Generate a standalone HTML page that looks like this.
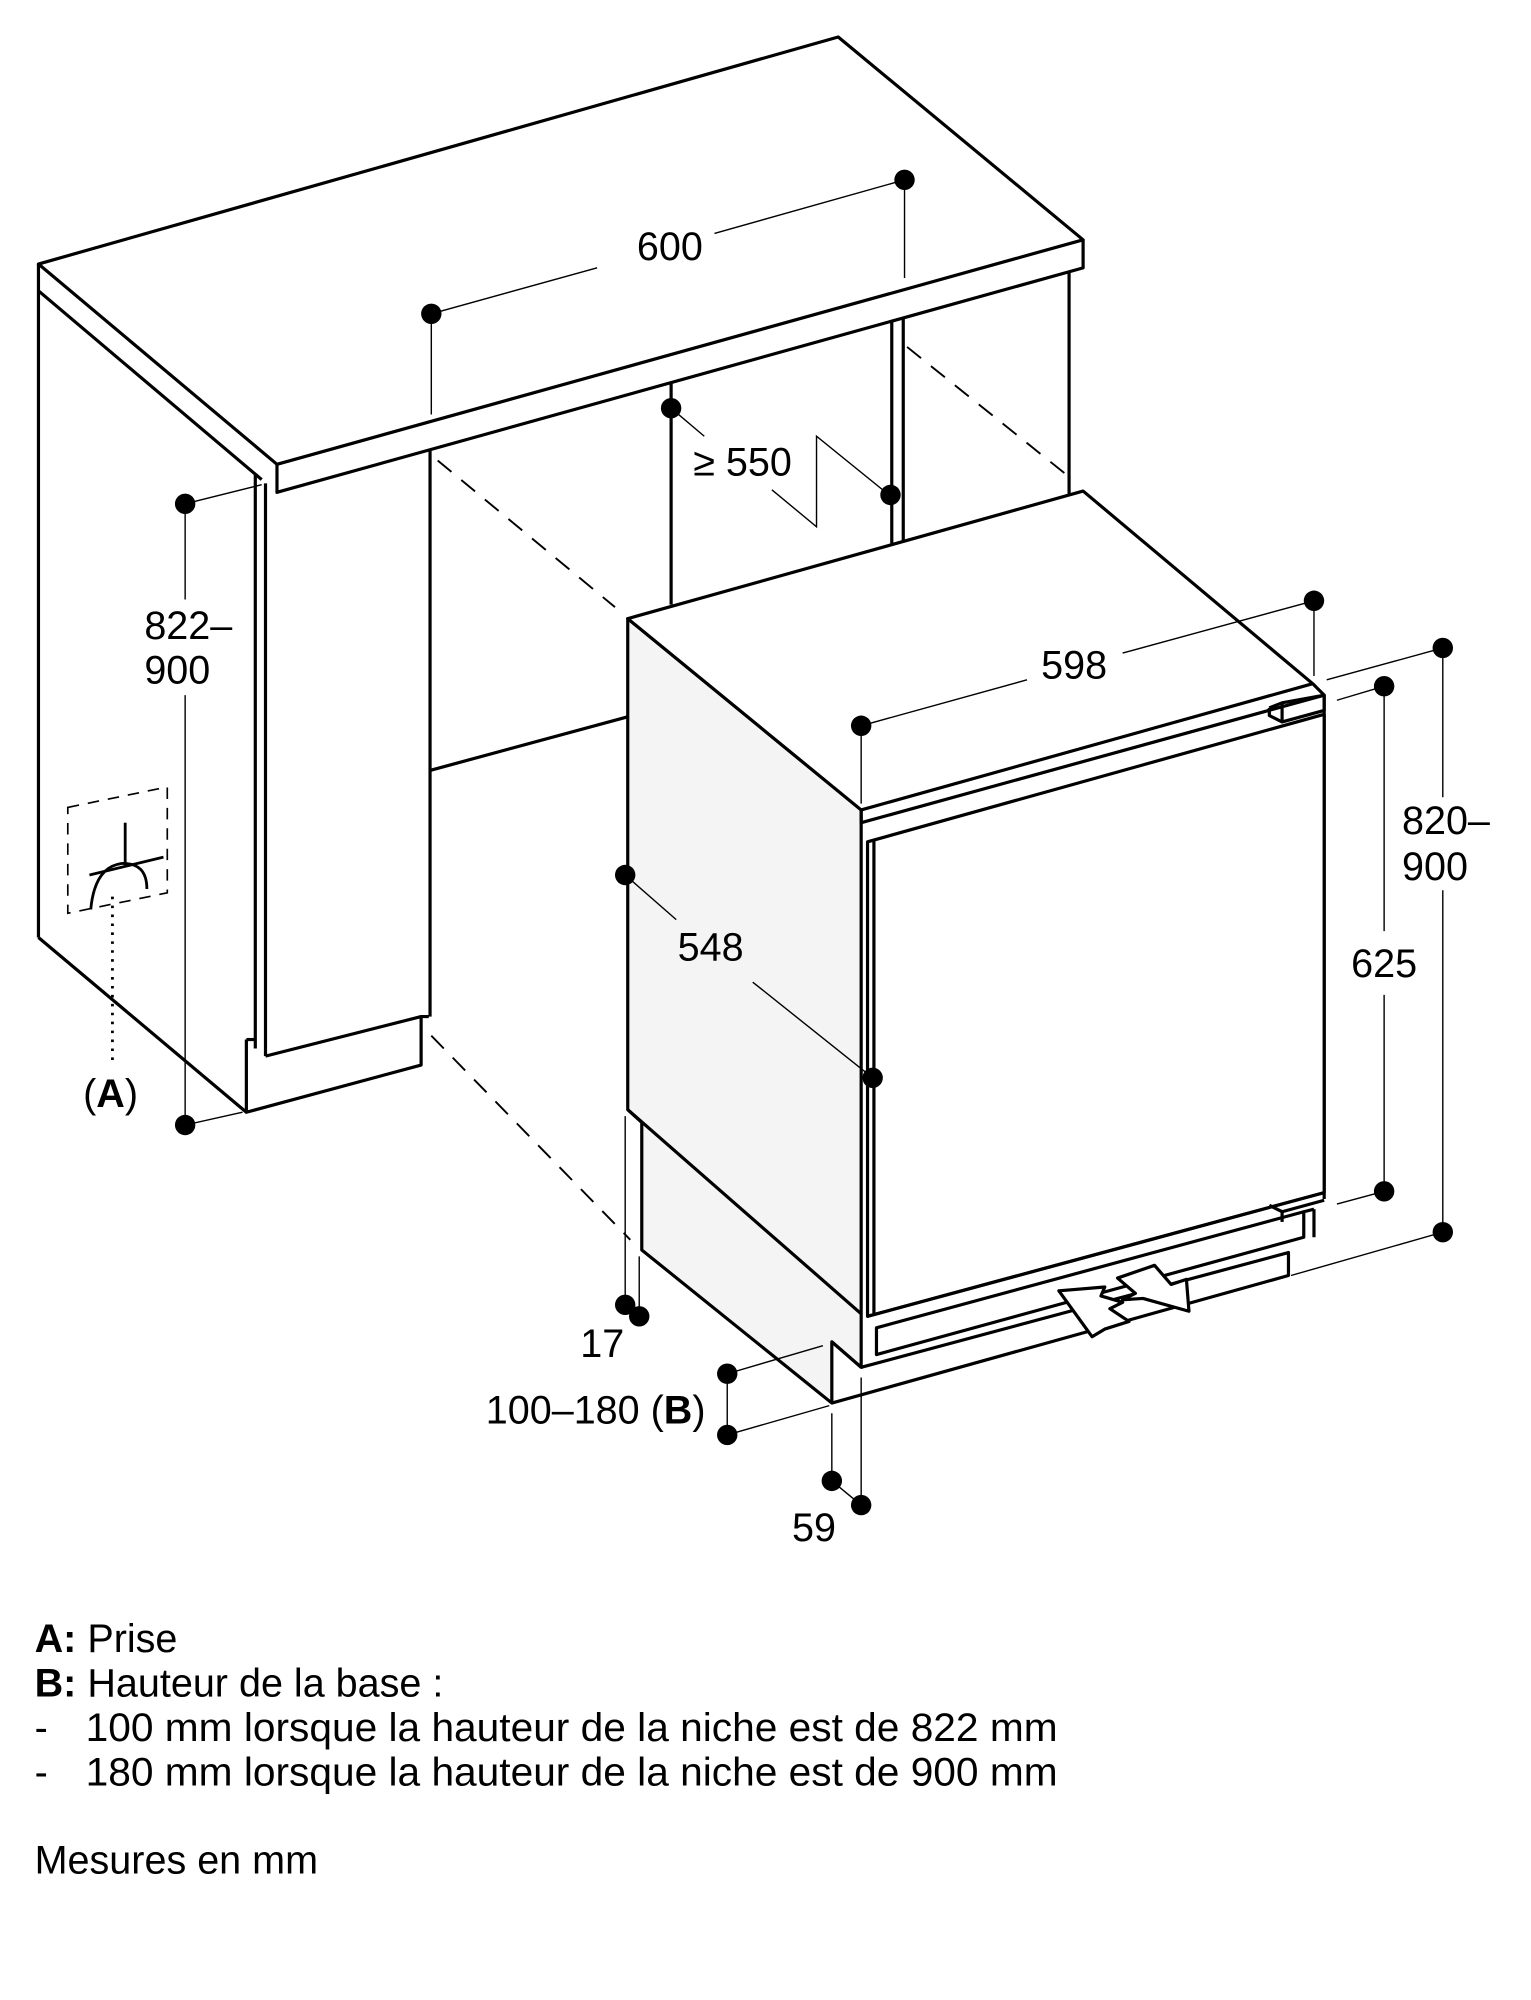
<!DOCTYPE html>
<html><head><meta charset="utf-8"><style>
html,body{margin:0;padding:0;background:#fff;}
svg{display:block;}
text{font-family:"Liberation Sans",sans-serif;fill:#000;}
</style></head><body>
<svg width="1531" height="2000" viewBox="0 0 1200 1568" xmlns="http://www.w3.org/2000/svg">
<g fill="none" stroke="#000" stroke-width="2.5" stroke-linejoin="round">
<polygon points="30,207 657,29 849,188 217,364" fill="#fff"/>
<polyline points="217,364 217,386 849,210 849,188"/>
<polyline points="30,207 30,228 205,376"/>
<line x1="30" y1="228" x2="30" y2="735"/>
<line x1="30" y1="735" x2="193" y2="872"/>
<line x1="200" y1="372" x2="200" y2="822"/>
<line x1="208" y1="379" x2="208" y2="828"/>
<polyline points="193,815 193,872 330,835 330,797 336,797"/>
<line x1="208" y1="828" x2="330" y2="797"/>
<line x1="193" y1="815" x2="200" y2="815"/>
<line x1="337" y1="352" x2="337" y2="797"/>
<line x1="337" y1="604" x2="492" y2="562"/>
<line x1="526" y1="300" x2="526" y2="474"/>
<line x1="699" y1="252" x2="699" y2="426"/>
<line x1="708" y1="249" x2="708" y2="424"/>
<line x1="838" y1="214" x2="838" y2="387"/>
<polygon points="492,485 675,635 675,1072 652,1052 652,1100 503,980 503,880 492,870" fill="#f4f4f4"/>
<polygon points="492,485 849,385 1029,536 675,635" fill="#fff"/>
<line x1="492" y1="870" x2="675" y2="1030"/>
<polyline points="1029,536 1038,545 1038,940"/>
<polyline points="675,635 675,645 1038,545"/>
<polygon points="680,660 1038,560 1038,935 680,1032" fill="#fff"/>
<line x1="685" y1="659" x2="685" y2="1031"/>
<polyline points="995,555 1005,551 1038,545 1038,557 1005,566 995,561 995,555"/>
<line x1="1005" y1="551" x2="1005" y2="566"/>
<polyline points="995,945 1005,950 1038,941"/>
<line x1="1005" y1="950" x2="1005" y2="958"/>
<polyline points="680,1032 1038,935"/>
<polygon points="687,1041 1022,950 1022,970 687,1062"/>
<line x1="1022" y1="950" x2="1030" y2="948"/>
<line x1="1030" y1="948" x2="1030" y2="970"/>
<polyline points="675,1072 1010,982 1010,1000 652,1100"/>
<polyline points="652,1052 675,1072"/>
<polygon points="830,1012 856,1048 866,1042 885,1036 870,1026 880,1021 863,1016 866,1009" fill="#fff"/>
<polygon points="932,1028 930,1003 918,1007 905,992 876,1002 890,1014 880,1019 896,1018" fill="#fff"/>
</g>
<g fill="none" stroke="#000" stroke-width="1.5" stroke-dasharray="14,10">
<line x1="343" y1="361" x2="482" y2="476"/>
<line x1="711" y1="272" x2="842" y2="377"/>
<line x1="338" y1="812" x2="494" y2="972"/>
</g>
<g fill="none" stroke="#000" stroke-width="1.3" stroke-dasharray="9,7">
<polygon points="53,633 131,617 131,700 53,716"/>
</g>
<g fill="none" stroke="#000" stroke-width="2.2">
<line x1="98" y1="645" x2="98" y2="680"/>
<line x1="70" y1="686" x2="128" y2="672"/>
<path d="M71,713 Q74,680 95,677 Q115,676 115,697"/>
</g>
<line x1="88" y1="703" x2="88" y2="832" stroke="#000" stroke-width="2.2" stroke-dasharray="2,5"/>
<g fill="none" stroke="#000" stroke-width="1.1">
<polyline points="338,325 338,246 468,210"/>
<polyline points="560,183 709,141 709,218"/>
<line x1="526" y1="320" x2="552" y2="342"/>
<polyline points="605,384 640,413 640,342 698,389"/>
<polyline points="205,380 145,395 145,470"/>
<polyline points="190,872 145,882 145,545"/>
<line x1="490" y1="686" x2="530" y2="721"/>
<line x1="590" y1="770" x2="684" y2="845"/>
<polyline points="675,630 675,569 805,533"/>
<polyline points="880,512 1030,471 1030,530"/>
<polyline points="1040,533 1131,508 1131,625"/>
<polyline points="1012,1000 1131,966 1131,698"/>
<polyline points="1048,549 1085,538 1085,730"/>
<polyline points="1048,944 1085,934 1085,780"/>
<line x1="490" y1="875" x2="490" y2="1023"/>
<line x1="501" y1="985" x2="501" y2="1032"/>
<polyline points="645,1055 570,1077 570,1125 650,1102"/>
<polyline points="652,1108 652,1161 675,1180 675,1080"/>
</g>
<g fill="#000">
<circle cx="338" cy="246" r="8"/><circle cx="709" cy="141" r="8"/>
<circle cx="526" cy="320" r="8"/><circle cx="698" cy="388" r="8"/>
<circle cx="145" cy="395" r="8"/><circle cx="145" cy="882" r="8"/>
<circle cx="490" cy="686" r="8"/><circle cx="684" cy="845" r="8"/>
<circle cx="675" cy="569" r="8"/><circle cx="1030" cy="471" r="8"/>
<circle cx="1131" cy="508" r="8"/><circle cx="1131" cy="966" r="8"/>
<circle cx="1085" cy="538" r="8"/><circle cx="1085" cy="934" r="8"/>
<circle cx="490" cy="1023" r="8"/><circle cx="501" cy="1032" r="8"/>
<circle cx="570" cy="1077" r="8"/><circle cx="570" cy="1125" r="8"/>
<circle cx="652" cy="1161" r="8"/><circle cx="675" cy="1180" r="8"/>
</g>
<g font-size="31">
<text x="525" y="204" text-anchor="middle">600</text>
<text x="582" y="373" text-anchor="middle">≥ 550</text>
<text x="113" y="501">822–</text>
<text x="113" y="536">900</text>
<text x="65" y="868"><tspan>(</tspan><tspan font-weight="bold">A</tspan><tspan>)</tspan></text>
<text x="842" y="532" text-anchor="middle">598</text>
<text x="557" y="753" text-anchor="middle">548</text>
<text x="1099" y="654">820–</text>
<text x="1099" y="690">900</text>
<text x="1085" y="766" text-anchor="middle">625</text>
<text x="472" y="1064" text-anchor="middle">17</text>
<text x="553" y="1116" text-anchor="end">100–180 (<tspan font-weight="bold">B</tspan>)</text>
<text x="638" y="1208" text-anchor="middle">59</text>
</g>
<g font-size="31">
<text x="27" y="1295"><tspan font-weight="bold">A:</tspan> Prise</text>
<text x="27" y="1330"><tspan font-weight="bold">B:</tspan> Hauteur de la base :</text>
<text x="27" y="1365">-</text>
<text x="67" y="1365" textLength="762" lengthAdjust="spacingAndGlyphs">100 mm lorsque la hauteur de la niche est de 822 mm</text>
<text x="27" y="1400">-</text>
<text x="67" y="1400" textLength="762" lengthAdjust="spacingAndGlyphs">180 mm lorsque la hauteur de la niche est de 900 mm</text>
<text x="27" y="1469">Mesures en mm</text>
</g>
</svg>
</body></html>
